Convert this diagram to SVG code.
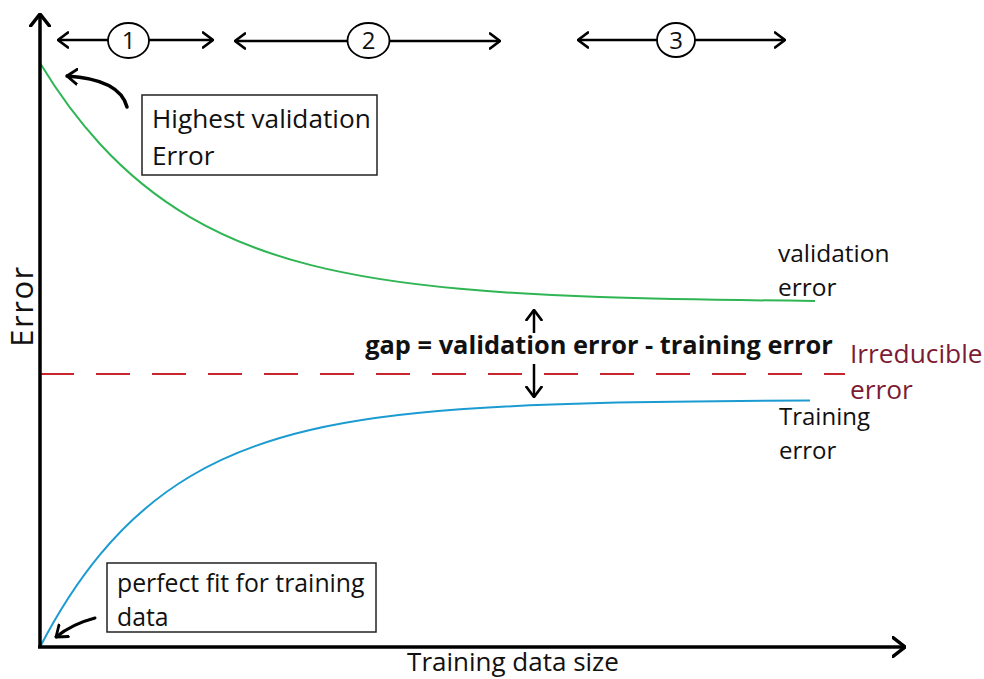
<svg xmlns="http://www.w3.org/2000/svg" width="984" height="679" viewBox="0 0 984 679">
<defs>
<style>
.t{font-family:"Open Sans","Noto Sans","Liberation Sans",sans-serif;fill:#111}
.ax{stroke:#000;stroke-width:3.5;fill:none}
.ar{stroke:#000;stroke-width:2.5;fill:none}
.box{fill:#fff;stroke:#222;stroke-width:1.5}
.circ{fill:#fff;stroke:#000;stroke-width:1.8}
.red{fill:#7b1c34}
</style>
<marker id="head" viewBox="0 0 12 18" refX="11" refY="9" markerWidth="12" markerHeight="18" markerUnits="userSpaceOnUse" orient="auto-start-reverse">
<path d="M1,1.5 L11,9 L1,16.5" fill="none" stroke="#000" stroke-width="2.8" stroke-linecap="round" stroke-linejoin="round"/>
</marker>
<marker id="bighead" viewBox="0 0 14 22" refX="13" refY="11" markerWidth="14" markerHeight="22" markerUnits="userSpaceOnUse" orient="auto">
<path d="M1,1.5 L13,11 L1,20.5" fill="none" stroke="#000" stroke-width="3.5" stroke-linecap="round" stroke-linejoin="round"/>
</marker>
</defs>
<rect width="984" height="679" fill="#fff"/>

<g id="curves">
<path id="validation-curve" fill="none" stroke="#2fb553" stroke-width="2" d="M40,63 C60,96 80,122.2 100,144 C130,176.7 160,199.5 190,217.1 C230,240.5 270,254.7 310,264.9 C360,277.7 410,284.25 460,288.8 C506.7,293.05 553.3,295.4 600,297 C671.7,299.5 743.3,300.3 815,300.9"/>
<path id="training-curve" fill="none" stroke="#1b9bd1" stroke-width="2" d="M40,647 C60,608.4 80,578.75 100,554.6 C130,518.4 160,494.4 190,476.5 C230,452.6 270,439.4 310,430 C360,418.3 410,412.9 460,409.3 C506.7,405.9 553.3,404.2 600,403.1 C670,401.4 740,400.9 810,400.6"/>
<line id="irreducible-line" x1="40" y1="374" x2="845" y2="374" stroke="#c8242d" stroke-width="2.2" stroke-dasharray="34,22"/>
</g>

<g id="connectors">
<line class="ax" x1="40" y1="648" x2="40" y2="14" marker-end="url(#bighead)"/>
<line class="ax" x1="38" y1="647" x2="905" y2="647" marker-end="url(#bighead)"/>
<line class="ar" x1="58" y1="40" x2="108" y2="40" marker-start="url(#head)"/>
<line class="ar" x1="149" y1="40" x2="213" y2="40" marker-end="url(#head)"/>
<line class="ar" x1="235" y1="41" x2="347" y2="41" marker-start="url(#head)"/>
<line class="ar" x1="390" y1="41" x2="500" y2="41" marker-end="url(#head)"/>
<line class="ar" x1="578" y1="40" x2="657" y2="40" marker-start="url(#head)"/>
<line class="ar" x1="695" y1="40" x2="785" y2="40" marker-end="url(#head)"/>
<path d="M127,107 C122,88 100,78 67,76" fill="none" stroke="#000" stroke-width="3.5" stroke-linecap="round" marker-end="url(#head)"/>
<path d="M95,618 Q72,624 56,637" fill="none" stroke="#000" stroke-width="3" stroke-linecap="round" marker-end="url(#head)"/>
<line class="ar" x1="534" y1="333" x2="534" y2="310" marker-end="url(#head)"/>
<line class="ar" x1="534" y1="364" x2="534" y2="397" marker-end="url(#head)"/>
</g>

<g id="region-1">
<ellipse class="circ" cx="128.5" cy="40.5" rx="20.5" ry="17.5"/>
<text class="t" x="128.5" y="49" text-anchor="middle" style="font-size:24px">1</text>
</g>
<g id="region-2">
<ellipse class="circ" cx="368.5" cy="40.5" rx="21" ry="17.5"/>
<text class="t" x="368.5" y="49" text-anchor="middle" style="font-size:24px">2</text>
</g>
<g id="region-3">
<ellipse class="circ" cx="676" cy="40" rx="19" ry="17"/>
<text class="t" x="676" y="48.5" text-anchor="middle" style="font-size:24px">3</text>
</g>

<g id="highest-validation-box">
<rect class="box" x="142" y="95" width="235" height="80"/>
<text class="t" x="152" y="128" style="font-size:26.2px">Highest validation</text>
<text class="t" x="152" y="165" style="font-size:26.2px">Error</text>
</g>

<g id="perfect-fit-box">
<rect class="box" x="107" y="563" width="269" height="69"/>
<text class="t" x="117" y="592" style="font-size:24.8px">perfect fit for training</text>
<text class="t" x="117" y="626" style="font-size:24.8px">data</text>
</g>

<g id="gap-label">
<text class="t" x="599" y="354" text-anchor="middle" style="font-size:25.4px;font-weight:bold">gap = validation error - training error</text>
</g>

<g id="validation-label">
<text class="t" x="778" y="262" style="font-size:24.5px">validation</text>
<text class="t" x="778" y="296" style="font-size:24.5px">error</text>
</g>
<g id="irreducible-label">
<text class="t red" x="850" y="363" style="font-size:26.3px">Irreducible</text>
<text class="t red" x="850" y="399" style="font-size:26.3px">error</text>
</g>
<g id="training-label">
<text class="t" x="779" y="425" style="font-size:24px">Training</text>
<text class="t" x="779" y="459" style="font-size:24px">error</text>
</g>

<g id="axis-labels">
<text class="t" x="0" y="0" text-anchor="middle" transform="translate(33,306) rotate(-90)" style="font-size:31px;letter-spacing:1.5px">Error</text>
<text class="t" x="513" y="671" text-anchor="middle" style="font-size:26px">Training data size</text>
</g>
</svg>
